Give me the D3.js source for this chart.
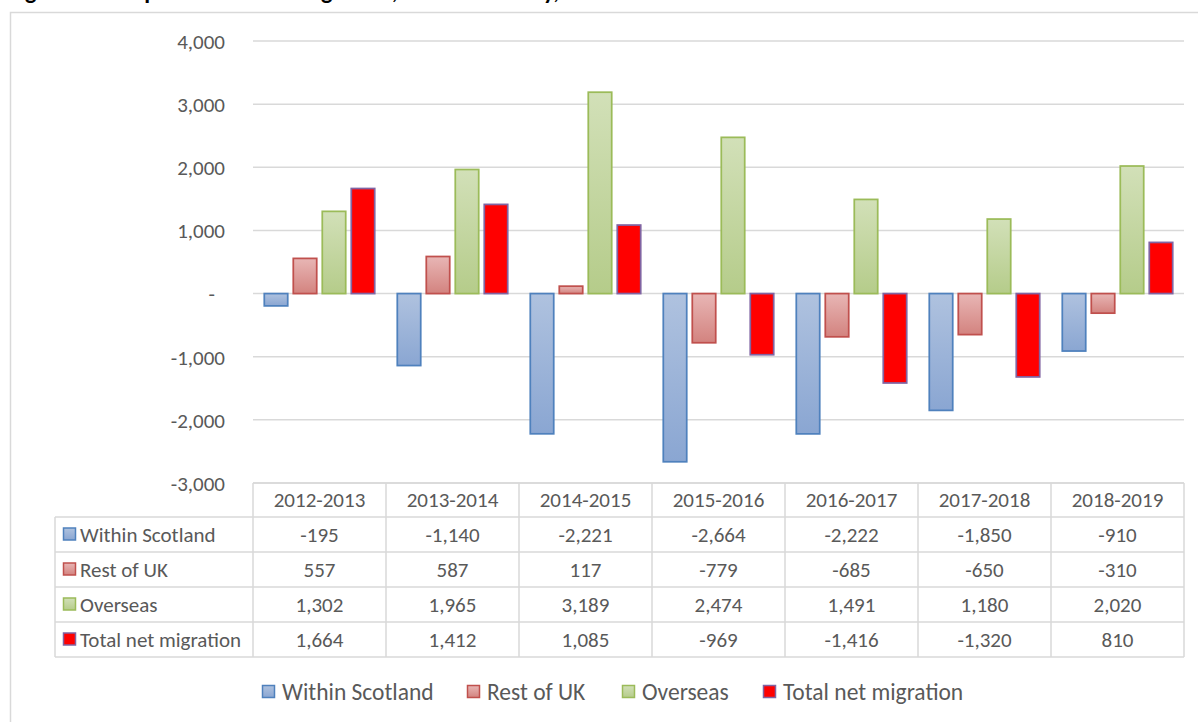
<!DOCTYPE html>
<html>
<head>
<meta charset="utf-8">
<script src="https://cdn.jsdelivr.net/npm/d3@7"></script>
<style>
  html, body { margin: 0; padding: 0; background: #fff; overflow: hidden; }
  svg { display: block; }
  text { font-family: Carlito, Calibri, Lato, sans-serif; }
</style>
</head>
<body>
<svg id="chart" width="1198" height="722"></svg>
<script>
// ---- Data ----
const titleText = "Figure 4: Components of net migration, Local Authority, 2012-13 to 2018-19";
const categories = ["2012-2013", "2013-2014", "2014-2015", "2015-2016", "2016-2017", "2017-2018", "2018-2019"];
const seriesNames = ["Within Scotland", "Rest of UK", "Overseas", "Total net migration"];
const withinScotland = [-195, -1140, -2221, -2664, -2222, -1850, -910];
const restOfUK = [557, 587, 117, -779, -685, -650, -310];
const overseas = [1302, 1965, 3189, 2474, 1491, 1180, 2020];
const totalNet = [1664, 1412, 1085, -969, -1416, -1320, 810];
const yTicks = [-3000, -2000, -1000, 0, 1000, 2000, 3000, 4000];

const seriesValues = [withinScotland, restOfUK, overseas, totalNet];
const seriesStyle = [
  { stroke: "#4f81bd", top: "#afc2df", bottom: "#8aa6d2", solid: null },
  { stroke: "#c0504d", top: "#e8b6b5", bottom: "#d3837f", solid: null },
  { stroke: "#9bbb59", top: "#d2e0b8", bottom: "#b5cc8a", solid: null },
  { stroke: "#8064a2", top: null, bottom: null, solid: "#ff0000" }
];

const locale = d3.formatLocale({ decimal: ".", thousands: ",", grouping: [3], currency: ["", ""], minus: "-" });
const fmt = locale.format(",");

const svg = d3.select("#chart");
const W = 1198, H = 722;

// gradients
const defs = svg.append("defs");
seriesStyle.forEach((s, i) => {
  if (s.solid) return;
  const g = defs.append("linearGradient").attr("id", "grad" + i)
    .attr("x1", 0).attr("y1", 0).attr("x2", 0).attr("y2", 1);
  g.append("stop").attr("offset", "0%").attr("stop-color", s.top);
  g.append("stop").attr("offset", "100%").attr("stop-color", s.bottom);
});
const fillOf = i => seriesStyle[i].solid ? seriesStyle[i].solid : `url(#grad${i})`;

// Title (mostly cut off at the top of the picture, as in the reference)
svg.append("text").attr("x", 8).attr("y", -1)
  .attr("font-size", 24).attr("font-weight", "bold").attr("fill", "#000")
  .text(titleText);

// chart border
svg.append("rect").attr("x", 10.5).attr("y", 12.5).attr("width", W + 20).attr("height", H + 20)
  .attr("fill", "none").attr("stroke", "#d9d9d9").attr("stroke-width", 1.5);

// scales
const plotLeft = 253, plotRight = 1184;
const y = d3.scaleLinear().domain([-3000, 4000]).range([483, 41]);
const x0 = d3.scaleBand().domain(categories).range([plotLeft, plotRight]).paddingInner(0).paddingOuter(0);
const bw = x0.bandwidth();
const x1 = d3.scaleBand().domain(seriesNames).range([bw * 0.064, bw * 0.936]).paddingInner(0.14).paddingOuter(0.07);

// gridlines
const grid = svg.append("g");
grid.selectAll("line").data(yTicks).join("line")
  .attr("x1", plotLeft).attr("x2", plotRight)
  .attr("y1", d => y(d)).attr("y2", d => y(d))
  .attr("stroke", "#d9d9d9").attr("stroke-width", 1.5);

// y axis labels
const axisG = svg.append("g").attr("transform", `translate(${plotLeft - 28},0)`);
const yAxis = d3.axisLeft(y).tickValues(yTicks).tickSize(0).tickPadding(0)
  .tickFormat(d => d === 0 ? "-" : fmt(d));
axisG.call(yAxis);
axisG.select(".domain").remove();
axisG.selectAll(".tick text")
  .attr("fill", "#595959").attr("font-size", 21)
  .attr("font-family", "Carlito, Calibri, Lato, sans-serif")
  .attr("dx", d => d === 0 ? -10 : 0)
  .attr("dy", "0.35em");

// bars
const groups = svg.append("g").selectAll("g").data(categories).join("g")
  .attr("transform", d => `translate(${x0(d)},0)`);
groups.selectAll("rect")
  .data((c, ci) => seriesNames.map((s, si) => ({ s, si, v: seriesValues[si][ci] })))
  .join("rect")
  .attr("x", d => x1(d.s) + 0.75)
  .attr("width", x1.bandwidth() - 1.5)
  .attr("y", d => Math.min(y(d.v), y(0)))
  .attr("height", d => Math.abs(y(d.v) - y(0)))
  .attr("fill", d => fillOf(d.si))
  .attr("stroke", d => seriesStyle[d.si].stroke)
  .attr("stroke-width", 1.75);

// data table
const tableTop = 483, headerH = 34, rowH = 35, tableLeft = 55;
const rowY = i => tableTop + headerH + i * rowH;
const tableBottom = rowY(seriesNames.length);
const tbl = svg.append("g");
const lineColor = "#d9d9d9";
const tFont = 21;
tbl.append("line").attr("x1", plotLeft).attr("x2", plotRight).attr("y1", tableTop).attr("y2", tableTop)
  .attr("stroke", lineColor).attr("stroke-width", 1.5);
tbl.selectAll(".hl").data(d3.range(seriesNames.length + 1)).join("line")
  .attr("x1", tableLeft).attr("x2", plotRight)
  .attr("y1", i => rowY(i)).attr("y2", i => rowY(i))
  .attr("stroke", lineColor).attr("stroke-width", 1.5);
tbl.append("line").attr("x1", tableLeft).attr("x2", tableLeft).attr("y1", rowY(0)).attr("y2", tableBottom)
  .attr("stroke", lineColor).attr("stroke-width", 1.5);
tbl.selectAll(".vl").data(categories.map(c => x0(c)).concat([plotRight])).join("line")
  .attr("x1", d => d).attr("x2", d => d).attr("y1", tableTop).attr("y2", tableBottom)
  .attr("stroke", lineColor).attr("stroke-width", 1.5);
tbl.selectAll(".hdr").data(categories).join("text")
  .attr("x", d => x0(d) + bw / 2).attr("y", tableTop + headerH / 2)
  .attr("dy", "0.35em").attr("text-anchor", "middle")
  .attr("font-size", tFont).attr("fill", "#595959").text(d => d);
seriesNames.forEach((s, si) => {
  const cy = rowY(si) + rowH / 2;
  tbl.append("rect").attr("x", 63.5).attr("y", cy - 6.5).attr("width", 12).attr("height", 12)
    .attr("fill", fillOf(si)).attr("stroke", seriesStyle[si].stroke).attr("stroke-width", 1.5);
  tbl.append("text").attr("x", 80).attr("y", cy).attr("dy", "0.35em")
    .attr("font-size", tFont).attr("fill", "#595959").text(s);
  tbl.selectAll(".v" + si).data(categories).join("text")
    .attr("x", c => x0(c) + bw / 2).attr("y", cy).attr("dy", "0.35em")
    .attr("text-anchor", "middle").attr("font-size", tFont).attr("fill", "#595959")
    .text((c, ci) => fmt(seriesValues[si][ci]));
});

// bottom legend
const legendX = [262, 467, 622, 763];
const legendY = 692;
const lg = svg.append("g");
seriesNames.forEach((s, si) => {
  lg.append("rect").attr("x", legendX[si] + 0.5).attr("y", legendY - 6.5).attr("width", 12).attr("height", 12)
    .attr("fill", fillOf(si)).attr("stroke", seriesStyle[si].stroke).attr("stroke-width", 1.5);
  lg.append("text").attr("x", legendX[si] + 20).attr("y", legendY).attr("dy", "0.35em")
    .attr("font-size", 23.5).attr("fill", "#595959").text(s);
});
</script>
</body>
</html>
